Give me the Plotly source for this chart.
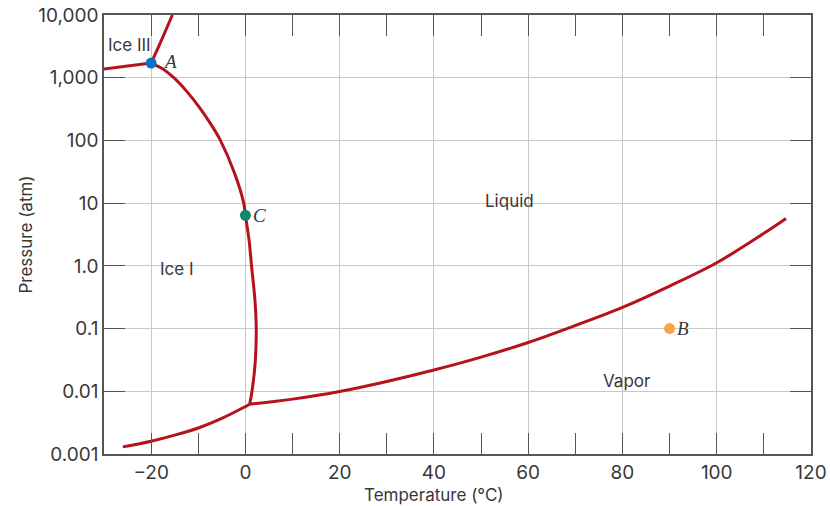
import math
import plotly.graph_objects as go

# Phase diagram of water
ice3_left_t = [-30, -20]
ice3_left_p = [1377, 1710]

ice3_up_t = [-20, -17.8, -15.5]
ice3_up_p = [1710, 3980, 10000]

melt_t = [-20, -17.5, -15.2, -12.4, -9.6, -7.3, -5.3, -2.3, -0.35, 0, 0.8, 1.3, 2.0, 2.3, 2.1, 1.4, 0.9]
melt_p = [1710, 1380, 1000, 600, 325, 180, 100, 30, 10, 6.4, 2.5, 1.0, 0.3, 0.1, 0.03, 0.01, 0.0062]

subl_t = [-26, -20, -15, -10, -5, 0, 0.9]
subl_p = [0.0013, 0.0016, 0.0020, 0.0026, 0.0037, 0.0057, 0.0062]

vap_t = [0.9, 10, 20, 30, 40, 50, 60, 70, 80, 90, 100, 110, 114.7]
vap_p = [0.0062, 0.0075, 0.0099, 0.0143, 0.0218, 0.035, 0.060, 0.112, 0.218, 0.476, 1.12, 3.3, 5.7]

points = ["A", "B", "C"]
point_t = [-20, 90, 0]
point_p = [1710, 0.1, 6.4]
point_colors = ["#0a72c2", "#f7a54c", "#0a8a68"]

regions = ["Ice III", "Ice I", "Liquid", "Vapor"]
region_t = [-24.5, -14.5, 56, 81]
region_p = [3300, 0.9, 11, 0.0145]

y_ticks = [0.001, 0.01, 0.1, 1, 10, 100, 1000, 10000]
y_labels = ["0.001", "0.01", "0.1", "1.0", "10", "100", "1,000", "10,000"]

red = "#b5121b"
txt = "#383838"
axis_col = "#555555"
font_name = "Inter"

fig = go.Figure()
curves = [(ice3_left_t, ice3_left_p), (ice3_up_t, ice3_up_p), (melt_t, melt_p),
          (subl_t, subl_p), (vap_t, vap_p)]
for t, p in curves:
    fig.add_trace(go.Scatter(x=t, y=p, mode="lines", line=dict(color=red, width=3, shape="spline", smoothing=1.0),
                             hoverinfo="skip", showlegend=False))

fig.add_trace(go.Scatter(x=point_t, y=point_p, mode="markers",
                         marker=dict(color=point_colors, size=11), showlegend=False, cliponaxis=False))

# annotations on a log axis take log10 of the value
label_shift = {"A": (10, 2), "B": (5, 0), "C": (6, 0)}
for name, t, p in zip(points, point_t, point_p):
    dx, dy = label_shift[name]
    fig.add_annotation(x=t, y=math.log10(p), text=name, showarrow=False, xanchor="left",
                       xshift=dx, yshift=dy,
                       font=dict(family="Liberation Serif", size=19, color=txt, style="italic"))

for name, t, p in zip(regions, region_t, region_p):
    fig.add_annotation(x=t, y=math.log10(p), text=name, showarrow=False,
                       font=dict(family=font_name, size=17, color=txt))

fig.add_annotation(x=40, y=-0.093, xref="x", yref="paper", text="Temperature (°C)", showarrow=False,
                   yanchor="middle", font=dict(family=font_name, size=17, color=txt))

fig.update_xaxes(range=[-30, 120], tick0=0, dtick=20, ticks="inside", ticklen=21, tickcolor=axis_col,
                 showline=True, linecolor=axis_col, linewidth=1.5, mirror="ticks", automargin=False,
                 showgrid=True, gridcolor="#c8c8c8", gridwidth=1, zeroline=False,
                 tickfont=dict(family=font_name, size=19, color=txt), ticklabeloverflow="allow",
                 minor=dict(dtick=10, tick0=0, ticks="inside", ticklen=21, tickcolor=axis_col, showgrid=False))
fig.update_yaxes(type="log", range=[-3, 4], tickvals=y_ticks, ticktext=y_labels,
                 ticks="inside", ticklen=21, tickcolor=axis_col, automargin=False,
                 showline=True, linecolor=axis_col, linewidth=1.5, mirror="ticks",
                 showgrid=True, gridcolor="#c8c8c8", gridwidth=1, zeroline=False,
                 tickfont=dict(family=font_name, size=19, color=txt), ticklabeloverflow="allow",
                 title=dict(text="Pressure (atm)", standoff=1,
                            font=dict(family=font_name, size=17, color=txt)))

fig.update_layout(width=830, height=506, margin=dict(l=104, r=19, t=15, b=52, autoexpand=False),
                  plot_bgcolor="white", paper_bgcolor="white")

# drop the default body margin so the figure sits at the window corner
fig.write_html("out.html", config={"displayModeBar": False},
               post_script="document.body.style.margin='0';document.body.style.overflow='hidden';")
